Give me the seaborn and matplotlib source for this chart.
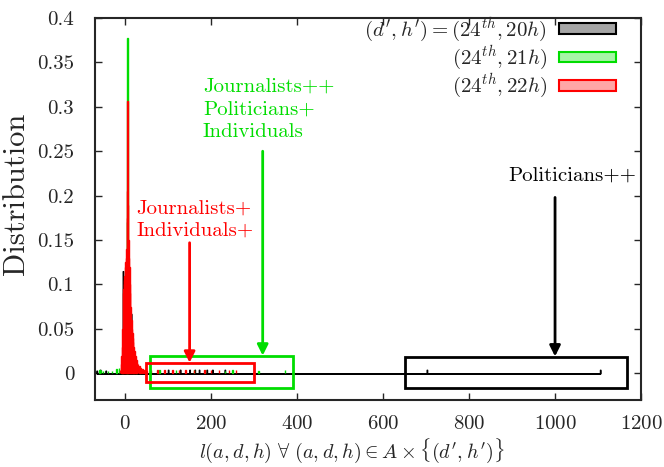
import numpy as np
import pandas as pd
import seaborn as sns
import matplotlib.pyplot as plt
from matplotlib.patches import Patch, Rectangle
from matplotlib.ticker import FuncFormatter, MultipleLocator

sns.set_style('ticks')
plt.rcParams['font.family'] = ['cmr10', 'DejaVu Serif']
plt.rcParams['mathtext.fontset'] = 'cm'
plt.rcParams['axes.unicode_minus'] = False
plt.rcParams['axes.formatter.use_mathtext'] = True

# distribution of l(a,d,h) for the three (d', h') slots
l_black = [-66, -58, -45, -5, -3, -1, 1, 3, 6, 9, 12, 14, 17, 20, 25, 32,
           100, 128, 150, 162, 172, 190, 203, 232, 702, 1105]
p_black = [0.003, 0.004, 0.003, 0.115, 0.09, 0.08, 0.1, 0.095, 0.12, 0.08, 0.06, 0.067, 0.03, 0.015, 0.008, 0.004,
           0.004, 0.004, 0.004, 0.004, 0.004, 0.004, 0.004, 0.004, 0.004, 0.004]

l_green = [-60, -56, -52, -40, -30, -20, -14, -6, -3, 0, 3, 5, 6, 7, 9, 12, 16, 20, 26, 34,
           80, 118, 160, 186, 232, 250, 310, 372]
p_green = [0.004, 0.004, 0.003, 0.003, 0.003, 0.005, 0.006, 0.02, 0.05, 0.08, 0.12, 0.17, 0.377, 0.15, 0.09, 0.05, 0.025,
           0.012, 0.006, 0.004,
           0.004, 0.004, 0.004, 0.004, 0.003, 0.004, 0.003, 0.004]

l_red = [-12, -10, -8, -7, -6, -5, -4, -3, -2, -1, 0, 1, 2, 3, 4, 5, 6, 7, 8, 9, 10, 11, 12, 13, 14, 15, 16, 17,
         18, 19, 20, 22, 24, 26, 28, 30, 33, 36, 40, 45, 50,
         60, 75, 92, 110, 125, 140, 160, 185, 200, 218, 242, 258]
p_red = [0.004, 0.01, 0.02, 0.03, 0.05, 0.09, 0.095, 0.1, 0.105, 0.11, 0.12, 0.125, 0.13, 0.14, 0.175, 0.205, 0.307, 0.19,
         0.15, 0.13, 0.12, 0.1, 0.09, 0.075, 0.05, 0.06, 0.05, 0.045, 0.04, 0.035, 0.03, 0.025, 0.02, 0.015, 0.012,
         0.01, 0.008, 0.006, 0.005, 0.004, 0.003,
         0.004, 0.004, 0.004, 0.004, 0.004, 0.004, 0.004, 0.004, 0.004, 0.004, 0.004, 0.004]

labels = ["$(d', h') = (24^{th}, 20h)$", "$(24^{th}, 21h)$", "$(24^{th}, 22h)$"]
GREEN = '#00dd00'
RED = '#ff0000'

fig = plt.figure(figsize=(6.64, 4.67), dpi=100)
ax = fig.add_axes([0.1431, 0.1435, 0.8223, 0.818])

sns.histplot(x=l_black, weights=p_black, discrete=True, element='step', fill=True,
             color='black', alpha=0.35, linewidth=1.0, ax=ax)
n0 = len(ax.patches)
sns.histplot(x=l_green, weights=p_green, discrete=True, element='bars',
             color=GREEN, edgecolor=GREEN, alpha=0.35, linewidth=1.0, ax=ax)
sns.histplot(x=l_red, weights=p_red, discrete=True, element='bars',
             color=RED, edgecolor=RED, alpha=0.35, linewidth=1.0, ax=ax)
for p in ax.patches[n0:]:
    if p.get_height() == 0:
        p.set_visible(False)

# highlighted regions
ax.add_patch(Rectangle((650, -0.016), 517, 0.034, fill=False, edgecolor='black', lw=2))
ax.add_patch(Rectangle((58, -0.016), 333, 0.035, fill=False, edgecolor=GREEN, lw=2))
ax.add_patch(Rectangle((49, -0.0102), 251, 0.0215, fill=False, edgecolor=RED, lw=2))

arrow = dict(arrowstyle='-|>', lw=2, mutation_scale=16, shrinkA=0, shrinkB=0)
ax.annotate('', xy=(1000, 0.019), xytext=(1000, 0.198), arrowprops=dict(arrow, color='black'))
ax.annotate('', xy=(320, 0.02), xytext=(320, 0.25), arrowprops=dict(arrow, color=GREEN))
ax.annotate('', xy=(150, 0.012), xytext=(150, 0.147), arrowprops=dict(arrow, color=RED))

ax.text(891, 0.223, 'Politicians++', color='black', fontsize=15, ha='left', va='center')
ax.text(181, 0.297, 'Journalists++\nPoliticians+\nIndividuals', color=GREEN, fontsize=15,
        ha='left', va='center', linespacing=1.35)
ax.text(26, 0.173, 'Journalists+\nIndividuals+', color=RED, fontsize=15,
        ha='left', va='center', linespacing=1.3)

handles = [Patch(facecolor='#a6a6a6', edgecolor='black', lw=1.5),
           Patch(facecolor='#a6f5a6', edgecolor=GREEN, lw=1.5),
           Patch(facecolor='#ffa6a6', edgecolor=RED, lw=1.5)]
ax.legend(handles, labels, loc='upper right', bbox_to_anchor=(0.954, 1.005), frameon=False,
          markerfirst=False, fontsize=15, handlelength=2.74, handleheight=0.43,
          handletextpad=0.58, labelspacing=0.0, borderpad=0, borderaxespad=0)

ax.set_xlim(-70, 1200)
ax.set_ylim(-0.03, 0.4)
ax.xaxis.set_major_locator(MultipleLocator(200))
ax.yaxis.set_major_locator(MultipleLocator(0.05))
ax.yaxis.set_major_formatter(FuncFormatter(lambda v, pos: '%g' % round(v, 3)))
ax.tick_params(direction='in', top=True, right=True, length=5, width=1, labelsize=15)
ax.tick_params(axis='y', pad=15)
ax.tick_params(axis='x', pad=11)
for s in ax.spines.values():
    s.set_linewidth(1.5)

ax.set_xlabel(r"$l(a, d, h)\ \forall\ (a, d, h) \in A \times \{(d', h')\}$", fontsize=14.5)
ax.xaxis.set_label_coords(0.471, -0.095)
ax.set_ylabel('Distribution', fontsize=22)
ax.yaxis.set_label_coords(-0.119, 0.54)

fig.savefig('out.png', dpi=100)
